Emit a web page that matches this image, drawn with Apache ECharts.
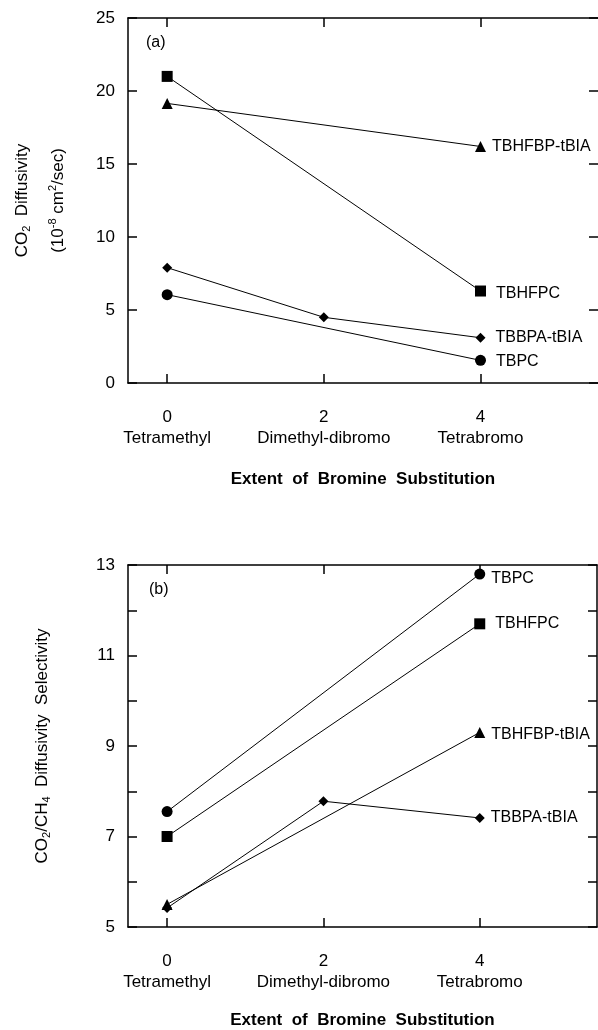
<!DOCTYPE html>
<html>
<head>
<meta charset="utf-8">
<script src="https://cdn.jsdelivr.net/npm/echarts@6/dist/echarts.min.js"></script>
<style>
  html, body { margin: 0; padding: 0; background: #fff; }
  #chart { width: 598px; height: 1030px; }
</style>
</head>
<body>
<div id="chart"></div>
<script>
// Bromine substitution positions and their names
const substitution = [0, 2, 4];
const substitutionNames = ['Tetramethyl', 'Dimethyl-dibromo', 'Tetrabromo'];

// (a) CO2 diffusivity, 10^-8 cm2/sec
const diffusivityTBHFPC = [21.0, null, 6.3];
const diffusivityTBHFBP = [19.15, null, 16.2];
const diffusivityTBBPA = [7.9, 4.5, 3.1];
const diffusivityTBPC = [6.05, null, 1.55];

// (b) CO2/CH4 diffusivity selectivity
const selectivityTBPC = [7.55, null, 12.8];
const selectivityTBHFPC = [7.0, null, 11.7];
const selectivityTBHFBP = [5.5, null, 9.3];
const selectivityTBBPA = [5.42, 7.78, 7.41];

// y tick values that carry a label
const diffusivityTicks = [0, 5, 10, 15, 20, 25];
const selectivityLabels = [5, 7, 9, 11, 13];

const FONT = 'Liberation Sans, Arial, Helvetica, sans-serif';

function pairs(values) {
  const out = [];
  values.forEach((v, i) => { if (v !== null) out.push([substitution[i], v]); });
  return out;
}

function lineSeries(name, values, symbol, size, gridIdx, labelOffset) {
  const pts = pairs(values);
  return {
    name: name,
    type: 'line',
    xAxisIndex: gridIdx * 2,
    yAxisIndex: gridIdx * 2,
    symbol: symbol,
    symbolSize: size,
    connectNulls: true,
    itemStyle: { color: '#000' },
    lineStyle: { color: '#000', width: 1 },
    animation: false,
    data: pts.map((p, i) => ({
      value: p,
      label: {
        show: i === pts.length - 1,
        position: 'right',
        distance: 6,
        offset: labelOffset,
        formatter: name,
        color: '#000',
        fontSize: 16,
        fontFamily: FONT
      }
    }))
  };
}

const richName = {
  n: { fontSize: 17, fontFamily: FONT, color: '#000', lineHeight: 36 },
  sub: { fontSize: 11, fontFamily: FONT, color: '#000', padding: [9, 0, 0, 0] },
  sup: { fontSize: 11, fontFamily: FONT, color: '#000', padding: [0, 0, 10, 0] }
};

const axisLineStyle = { color: '#000', width: 1.5 };

function xAxes(gridIdx, nameGap) {
  return [
    {
      gridIndex: gridIdx, type: 'value', position: 'bottom', min: -0.5, max: 5.5,
      name: 'Extent  of  Bromine  Substitution',
      nameLocation: 'middle', nameGap: nameGap,
      nameTextStyle: { fontSize: 17, fontWeight: 'bold', fontFamily: FONT, color: '#000' },
      splitLine: { show: false },
      axisLine: { onZero: false, lineStyle: axisLineStyle },
      axisTick: { inside: true, length: 9, customValues: substitution, lineStyle: axisLineStyle },
      axisLabel: {
        customValues: substitution, margin: 24, color: '#000', fontSize: 17, fontFamily: FONT, lineHeight: 21,
        formatter: v => v + '\n' + substitutionNames[substitution.indexOf(v)]
      }
    },
    {
      gridIndex: gridIdx, type: 'value', position: 'top', min: -0.5, max: 5.5,
      splitLine: { show: false },
      axisLine: { onZero: false, lineStyle: axisLineStyle },
      axisTick: { inside: true, length: 9, customValues: substitution, lineStyle: axisLineStyle },
      axisLabel: { show: false }
    }
  ];
}

function yAxes(gridIdx, min, max, interval, name, labelValues, nameGap, showRightLine) {
  return [
    {
      gridIndex: gridIdx, type: 'value', position: 'left', min: min, max: max, interval: interval,
      name: name, nameLocation: 'middle', nameRotate: 90, nameGap: nameGap,
      nameTextStyle: { rich: richName },
      splitLine: { show: false },
      axisLine: { onZero: false, lineStyle: axisLineStyle },
      axisTick: { inside: true, length: 9, lineStyle: axisLineStyle },
      axisLabel: {
        margin: 13, color: '#000', fontSize: 17, fontFamily: FONT,
        formatter: v => labelValues.indexOf(v) >= 0 ? String(v) : ''
      }
    },
    {
      gridIndex: gridIdx, type: 'value', position: 'right', min: min, max: max, interval: interval,
      splitLine: { show: false },
      axisLine: { onZero: false, show: showRightLine, lineStyle: axisLineStyle },
      axisTick: { inside: true, length: 9, lineStyle: axisLineStyle },
      axisLabel: { show: false }
    }
  ];
}

const chart = echarts.init(document.getElementById('chart'), null, { renderer: 'canvas' });

chart.setOption({
  backgroundColor: '#fff',
  animation: false,
  grid: [
    { left: 128, top: 18, right: 0, height: 365 },
    { left: 128, top: 565, right: 1, height: 365 }
  ],
  xAxis: [...xAxes(0, 88), ...xAxes(1, 85)],
  yAxis: [
    ...yAxes(0, 0, 25, 5,
      '{n|CO}{sub|2}{n|  Diffusivity}\n{n|(10}{sup|-8}{n| cm}{sup|2}{n|/sec)}',
      diffusivityTicks, 52, false),
    ...yAxes(1, 5, 13, 1,
      '{n|CO}{sub|2}{n|/CH}{sub|4}{n|  Diffusivity  Selectivity}',
      selectivityLabels, 68, true)
  ],
  graphic: [
    { type: 'text', left: 146, top: 35, style: { text: '(a)', fontSize: 16, fontFamily: FONT, fill: '#000' } },
    { type: 'text', left: 149, top: 582, style: { text: '(b)', fontSize: 16, fontFamily: FONT, fill: '#000' } }
  ],
  series: [
    lineSeries('TBHFPC', diffusivityTBHFPC, 'rect', 11, 0, [4, 3]),
    lineSeries('TBHFBP-tBIA', diffusivityTBHFBP, 'triangle', 11, 0, [0, 0]),
    lineSeries('TBBPA-tBIA', diffusivityTBBPA, 'diamond', 10, 0, [4, 0]),
    lineSeries('TBPC', diffusivityTBPC, 'circle', 11, 0, [4, 1]),
    lineSeries('TBPC', selectivityTBPC, 'circle', 11, 1, [0, 5]),
    lineSeries('TBHFPC', selectivityTBHFPC, 'rect', 11, 1, [4, 0]),
    lineSeries('TBHFBP-tBIA', selectivityTBHFBP, 'triangle', 11, 1, [0, 2]),
    lineSeries('TBBPA-tBIA', selectivityTBBPA, 'diamond', 10, 1, [0, 0])
  ]
});
</script>
</body>
</html>
